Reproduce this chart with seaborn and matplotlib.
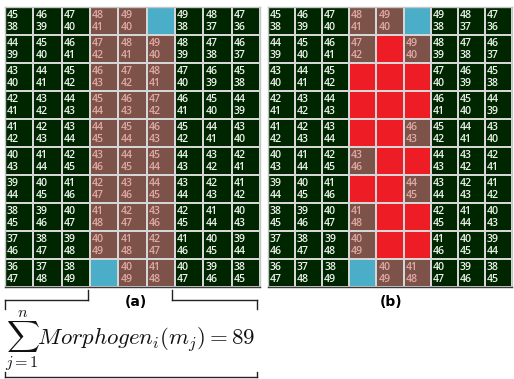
import numpy as np
import matplotlib
matplotlib.use("Agg")
import matplotlib.pyplot as plt
from matplotlib.colors import ListedColormap
from matplotlib.lines import Line2D
import seaborn as sns

# Morphogen levels per cell: upper value (source at top) and lower value (source at bottom).
# None marks the source cells themselves.
top_vals = [
    [45, 46, 47, 48, 49, None, 49, 48, 47],
    [44, 45, 46, 47, 48, 49, 48, 47, 46],
    [43, 44, 45, 46, 47, 48, 47, 46, 45],
    [42, 43, 44, 45, 46, 47, 46, 45, 44],
    [41, 42, 43, 44, 45, 46, 45, 44, 43],
    [40, 41, 42, 43, 44, 45, 44, 43, 42],
    [39, 40, 41, 42, 43, 44, 43, 42, 41],
    [38, 39, 40, 41, 42, 43, 42, 41, 40],
    [37, 38, 39, 40, 41, 42, 41, 40, 39],
    [36, 37, 38, None, 40, 41, 40, 39, 38],
]
bottom_vals = [
    [38, 39, 40, 41, 40, None, 38, 37, 36],
    [39, 40, 41, 42, 41, 40, 39, 38, 37],
    [40, 41, 42, 43, 42, 41, 40, 39, 38],
    [41, 42, 43, 44, 43, 42, 41, 40, 39],
    [42, 43, 44, 45, 44, 43, 42, 41, 40],
    [43, 44, 45, 46, 45, 44, 43, 42, 41],
    [44, 45, 46, 47, 46, 45, 44, 43, 42],
    [45, 46, 47, 48, 47, 46, 45, 44, 43],
    [46, 47, 48, 49, 48, 47, 46, 45, 44],
    [47, 48, 49, None, 49, 48, 47, 46, 45],
]

# Cell states: 0 = tissue, 1 = on the path (sum == 89), 2 = source, 3 = grown cell
states_a = [
    [0, 0, 0, 1, 1, 2, 0, 0, 0],
    [0, 0, 0, 1, 1, 1, 0, 0, 0],
    [0, 0, 0, 1, 1, 1, 0, 0, 0],
    [0, 0, 0, 1, 1, 1, 0, 0, 0],
    [0, 0, 0, 1, 1, 1, 0, 0, 0],
    [0, 0, 0, 1, 1, 1, 0, 0, 0],
    [0, 0, 0, 1, 1, 1, 0, 0, 0],
    [0, 0, 0, 1, 1, 1, 0, 0, 0],
    [0, 0, 0, 1, 1, 1, 0, 0, 0],
    [0, 0, 0, 2, 1, 1, 0, 0, 0],
]
states_b = [
    [0, 0, 0, 1, 1, 2, 0, 0, 0],
    [0, 0, 0, 1, 3, 1, 0, 0, 0],
    [0, 0, 0, 3, 3, 3, 0, 0, 0],
    [0, 0, 0, 3, 3, 3, 0, 0, 0],
    [0, 0, 0, 3, 3, 1, 0, 0, 0],
    [0, 0, 0, 1, 3, 3, 0, 0, 0],
    [0, 0, 0, 3, 3, 1, 0, 0, 0],
    [0, 0, 0, 1, 3, 3, 0, 0, 0],
    [0, 0, 0, 1, 3, 3, 0, 0, 0],
    [0, 0, 0, 2, 1, 1, 0, 0, 0],
]

panel_labels = ["(a)", "(b)"]
formula = r"$\sum_{j=1}^{n} Morphogen_i(m_j) = 89$"

cell_colors = ["#002600", "#7d5248", "#4aaec8", "#ee1c25"]
text_colors = {0: "#eef4ee", 1: "#e2aaa6"}

plt.rcParams["mathtext.fontset"] = "cm"
fig = plt.figure(figsize=(5.14, 3.79), dpi=100)
W, H = 514, 379


def px_axes(x0, y0, x1, y1):
    return fig.add_axes([x0 / W, 1 - y1 / H, (x1 - x0) / W, (y1 - y0) / H])


def draw_grid(ax, states):
    grid = np.array(states, dtype=float)
    sns.heatmap(grid, ax=ax, cmap=ListedColormap(cell_colors), vmin=-0.5, vmax=3.5,
                cbar=False, linewidths=1.1, linecolor="#d6d6d6",
                xticklabels=False, yticklabels=False, square=False)
    for s in ax.spines.values():
        s.set_visible(True)
        s.set_color("#c4c4c4")
        s.set_linewidth(1.0)
    ax.spines["bottom"].set_color("#3a3a3a")
    for r, row in enumerate(states):
        for c, st in enumerate(row):
            if st not in text_colors:
                continue
            col = text_colors[st]
            ax.text(c + 0.07, r + 0.30, str(top_vals[r][c]), color=col, fontsize=7.6,
                    ha="left", va="center", family="Open Sans", fontweight="semibold")
            ax.text(c + 0.07, r + 0.72, str(bottom_vals[r][c]), color=col, fontsize=7.6,
                    ha="left", va="center", family="Open Sans", fontweight="semibold")


ax_a = px_axes(5, 7, 260, 287)
ax_b = px_axes(268, 7, 512, 287)
draw_grid(ax_a, states_a)
draw_grid(ax_b, states_b)

fig.text(136 / W, 1 - 302 / H, panel_labels[0], ha="center", va="center",
         fontsize=10, fontweight="bold")
fig.text(391 / W, 1 - 302 / H, panel_labels[1], ha="center", va="center",
         fontsize=10, fontweight="bold")


def seg(x0, y0, x1, y1):
    fig.add_artist(Line2D([x0 / W, x1 / W], [1 - y0 / H, 1 - y1 / H],
                          color="#222222", lw=1.0, transform=fig.transFigure))


# brace above the sum
seg(5, 300, 88, 300)
seg(88, 300, 88, 290)
seg(5, 300, 5, 309)
seg(172, 300, 257, 300)
seg(172, 300, 172, 290)
seg(257, 300, 257, 309)
# brace below the sum
seg(5, 377, 257, 377)
seg(5, 377, 5, 372)
seg(257, 377, 257, 372)

fig.text(5 / W, 1 - 341 / H, formula, ha="left", va="center", fontsize=16.5,
         color="#111111")

fig.savefig("out.png", dpi=100)
